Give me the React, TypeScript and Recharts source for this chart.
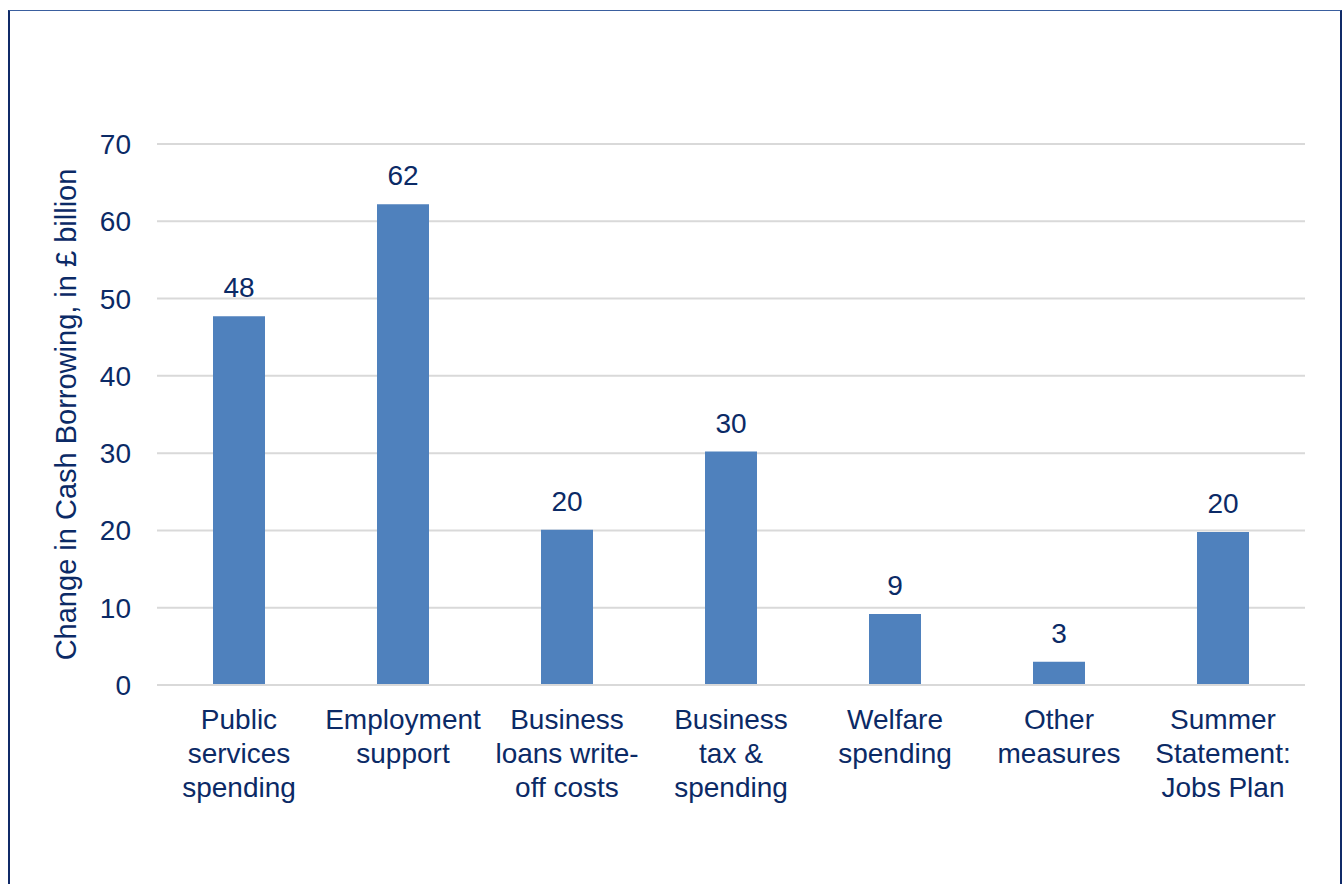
import React from "react";
import { BarChart, Bar, XAxis, YAxis, CartesianGrid, LabelList, Label } from "recharts";

const categories = [
  "Public\nservices\nspending",
  "Employment\nsupport",
  "Business\nloans write-\noff costs",
  "Business\ntax &\nspending",
  "Welfare\nspending",
  "Other\nmeasures",
  "Summer\nStatement:\nJobs Plan",
];
const values = [47.7, 62.2, 20.1, 30.2, 9.2, 3.0, 19.8];
const valueLabels = ["48", "62", "20", "30", "9", "3", "20"];
const yTicks = [0, 10, 20, 30, 40, 50, 60, 70];
const yTitle = "Change in Cash Borrowing, in £ billion";

const data = categories.map((c, i) => ({ name: c, value: values[i], label: valueLabels[i] }));

const TEXT = "#0B2A66";
const FONT = "'Liberation Sans', Arial, sans-serif";

const CatTick = (props: any) => {
  const { x, y, payload } = props;
  const lines = String(payload.value).split("\n");
  return (
    <text x={x} y={y} textAnchor="middle" fill={TEXT} fontSize={28} fontFamily={FONT}>
      {lines.map((l, i) => (
        <tspan key={i} x={x} dy={i === 0 ? 20 : 34}>
          {l}
        </tspan>
      ))}
    </text>
  );
};

const YTitle = (props: any) => {
  const vb = props.viewBox || {};
  const cx = 56;
  const cy = vb.y + vb.height / 2;
  return (
    <text
      x={cx}
      y={cy}
      transform={`rotate(-90, ${cx}, ${cy})`}
      textAnchor="middle"
      dominantBaseline="central"
      fill={TEXT}
      fontSize={29}
      fontFamily={FONT}
    >
      {yTitle}
    </text>
  );
};

export default function App() {
  return (
    <div
      style={{
        position: "absolute",
        left: 8,
        top: 10,
        width: 1334,
        height: 874,
        boxSizing: "border-box",
        borderLeft: "2px solid #102A68",
        borderRight: "2px solid #102A68",
        borderTop: "1px solid #3A5F9F",
        background: "#fff",
        overflow: "hidden",
      }}
    >
      <BarChart
        width={1330}
        height={870}
        data={data}
        margin={{ top: 133, right: 35, bottom: 166, left: 0 }}
        style={{ fontFamily: FONT }}
      >
        <CartesianGrid vertical={false} stroke="#D9D9D9" strokeWidth={2} />
        <XAxis
          dataKey="name"
          interval={0}
          tick={<CatTick />}
          tickLine={false}
          tickSize={0}
          tickMargin={24}
          axisLine={{ stroke: "#D9D9D9", strokeWidth: 2 }}
        />
        <YAxis
          width={147}
          domain={[0, 70]}
          ticks={yTicks}
          interval={0}
          axisLine={false}
          tickLine={false}
          tickSize={0}
          tickMargin={26}
          tick={{ fill: TEXT, fontSize: 28, fontFamily: FONT }}
        >
          <Label content={<YTitle />} />
        </YAxis>
        <Bar dataKey="value" fill="#4F81BD" barSize={52} isAnimationActive={false}>
          <LabelList dataKey="label" position="top" offset={19} fill={TEXT} fontSize={28} fontFamily={FONT} />
        </Bar>
      </BarChart>
    </div>
  );
}
